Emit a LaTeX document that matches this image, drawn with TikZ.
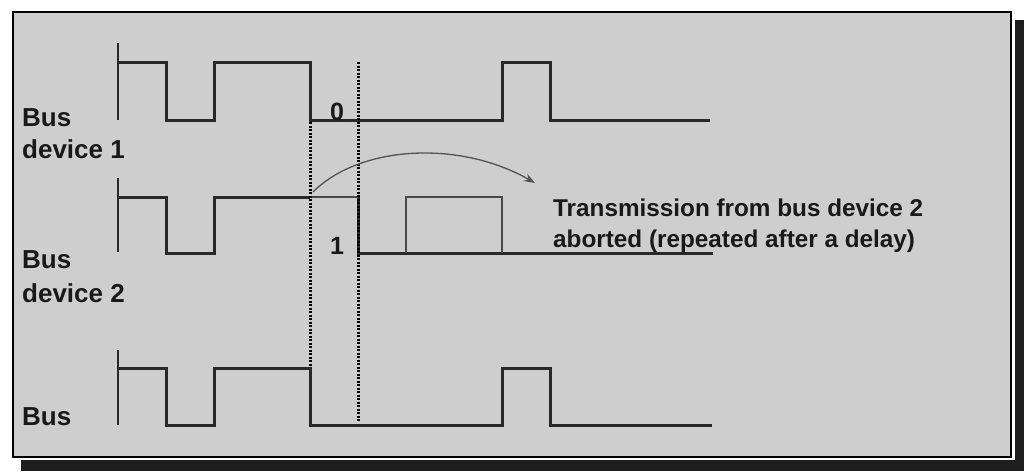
\documentclass[tikz,border=0pt]{standalone}
\usepackage{fontspec}
\setmainfont{Liberation Sans}
\usetikzlibrary{arrows.meta}
\definecolor{panel}{RGB}{206,206,206}
\definecolor{wave}{RGB}{40,40,40}
\definecolor{ink}{RGB}{25,25,25}
\definecolor{shadowcol}{RGB}{30,30,30}
\tikzset{
  wavefm/.style={draw=wave, line width=3pt, line join=miter},
  thinwave/.style={draw=wave!85, line width=1.5pt},
  axisln/.style={draw=wave, line width=1.3pt},
  dotline/.style={draw=black, line width=3pt, dash pattern=on 2.2pt off 1.3pt},
  lbl/.style={font=\fontsize{26}{30}\selectfont\bfseries, text=ink, inner sep=0pt, anchor=base west},
  note/.style={font=\fontsize{24.3}{28}\selectfont\bfseries, text=ink, inner sep=0pt, anchor=base west},
  bit/.style={font=\fontsize{25}{28}\selectfont\bfseries, text=ink, inner sep=0pt, anchor=base},
  curvarrow/.style={draw=wave!80, line width=1.3pt, -{Stealth[length=11pt,width=8pt]}}
}
\begin{document}
\begin{tikzpicture}[x=1pt,y=-1pt]
\fill[white] (0,0) rectangle (1024,472);
% shadow (right and bottom strips)
\fill[shadowcol] (1015,20) rectangle (1024,471);
\fill[shadowcol] (21,460) rectangle (1024,471);
% frame
\filldraw[fill=panel, draw=black, line width=2pt] (13,12) rectangle (1011,457);

% ---- Bus device 1 ----
\draw[axisln] (118,43) -- (118,120);
\draw[wavefm] (118,62) -- (166,62) -- (166,120) -- (214,120) -- (214,62) -- (310,62) -- (310,120)
  -- (502,120) -- (502,62) -- (550,62) -- (550,120) -- (710,120);

% ---- Bus device 2 ----
\draw[axisln] (118,178) -- (118,252);
\draw[wavefm] (118,197) -- (166,197) -- (166,253) -- (214,253) -- (214,197) -- (310,197);
\draw[thinwave] (310,197) -- (358,197);
\draw[wavefm] (358,197) -- (358,253) -- (713,253);
\draw[thinwave] (406,253) -- (406,197) -- (502,197) -- (502,253);

% ---- Bus ----
\draw[axisln] (118,350) -- (118,425);
\draw[wavefm] (118,368) -- (166,368) -- (166,425) -- (214,425) -- (214,368) -- (310,368) -- (310,425)
  -- (502,425) -- (502,368) -- (550,368) -- (550,425) -- (712,425);

% dotted markers
\draw[dotline] (310,122) -- (310,366);
\draw[dotline] (358,62) -- (358,421);

% bit labels
\node[bit] (b0) at (337,120) {0};
\node[bit] (b1) at (337,254) {1};

% labels
\node[lbl] (l1a) at (22,126) {Bus};
\node[lbl] (l1b) at (22,158) {device 1};
\node[lbl] (l2a) at (22,268) {Bus};
\node[lbl] (l2b) at (22,302) {device 2};
\node[lbl] (l3) at (22,425) {Bus};

\node[note] (n1) at (553,216) {Transmission from bus device 2};
\node[note] (n2) at (553,247) {aborted (repeated after a delay)};

% arrow
\coordinate (abortpt) at (313,192);
\coordinate (arrowend) at (535,183);
\draw[curvarrow] (abortpt) .. controls (360,145) and (460,140) .. (arrowend);
\useasboundingbox (0,0) rectangle (1024,472);
\end{tikzpicture}
\end{document}
